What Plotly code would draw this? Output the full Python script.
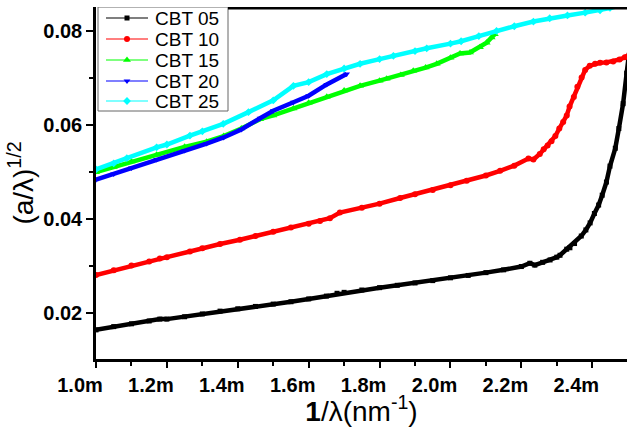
import plotly.graph_objects as go

# x in units of 1e-3 nm^-1 (tick labels "1.0m" ...)
x05 = [1.00, 1.05, 1.10, 1.15, 1.18, 1.20, 1.25, 1.30, 1.35, 1.40, 1.45, 1.50, 1.55, 1.60, 1.65, 1.68,
       1.70, 1.75, 1.80, 1.85, 1.90, 1.95, 2.00, 2.05, 2.10, 2.15, 2.20, 2.224, 2.238, 2.26, 2.281, 2.30,
       2.309, 2.328, 2.337, 2.35, 2.369, 2.382, 2.394, 2.406, 2.418, 2.428, 2.44, 2.45, 2.465, 2.475,
       2.487, 2.497, 2.51]
y05 = [0.0163, 0.0170, 0.0176, 0.0182, 0.0186, 0.0186, 0.0191, 0.0197, 0.0203, 0.0208, 0.0213, 0.0218,
       0.0223, 0.0229, 0.0235, 0.0241, 0.0243, 0.0248, 0.0253, 0.0258, 0.0263, 0.0268, 0.0274, 0.0279,
       0.0285, 0.0291, 0.0298, 0.0305, 0.0301, 0.0307, 0.0312, 0.0318, 0.0322, 0.0335, 0.0338, 0.0347,
       0.0363, 0.0376, 0.0391, 0.0411, 0.0429, 0.0450, 0.0478, 0.0512, 0.0550, 0.0592, 0.0645, 0.0710,
       0.0790]

x10 = [1.00, 1.05, 1.10, 1.15, 1.18, 1.20, 1.265, 1.30, 1.35, 1.406, 1.45, 1.50, 1.55, 1.60, 1.632,
       1.66, 1.688, 1.75, 1.80, 1.858, 1.90, 1.95, 2.00, 2.046, 2.10, 2.14, 2.18, 2.22, 2.234, 2.252,
       2.263, 2.274, 2.285, 2.296, 2.307, 2.318, 2.328, 2.336, 2.348, 2.358, 2.37, 2.38, 2.393, 2.408,
       2.422, 2.44, 2.459, 2.477, 2.492, 2.51]
y10 = [0.0280, 0.0290, 0.0300, 0.0309, 0.0315, 0.0318, 0.0330, 0.0337, 0.0346, 0.0355, 0.0363, 0.0372,
       0.0381, 0.0389, 0.0395, 0.0401, 0.0413, 0.0423, 0.0432, 0.0444, 0.0452, 0.0461, 0.0471, 0.0481,
       0.0492, 0.0502, 0.0513, 0.0528, 0.0526, 0.0538, 0.0548, 0.0556, 0.0565, 0.0576, 0.0592, 0.0606,
       0.0620, 0.0639, 0.0659, 0.0681, 0.0701, 0.0717, 0.0726, 0.0730, 0.0732, 0.0733, 0.0735, 0.0739,
       0.0744, 0.0752]

x15 = [1.00, 1.05, 1.10, 1.171, 1.25, 1.312, 1.36, 1.41, 1.463, 1.50, 1.557, 1.60, 1.651, 1.70, 1.745,
       1.80, 1.82, 1.86, 1.895, 1.93, 1.961, 2.00, 2.027, 2.055, 2.083, 2.102, 2.116, 2.125]
y15 = [0.0499, 0.0510, 0.0522, 0.0536, 0.0553, 0.0564, 0.0576, 0.0592, 0.0612, 0.0620, 0.0635, 0.0647,
       0.0660, 0.0673, 0.0683, 0.0694, 0.0698, 0.0706, 0.0715, 0.0722, 0.0730, 0.0743, 0.0752, 0.0754,
       0.0765, 0.0775, 0.0786, 0.0793]

x20 = [1.00, 1.05, 1.10, 1.171, 1.25, 1.312, 1.36, 1.41, 1.463, 1.50, 1.557, 1.60, 1.651, 1.707]
y20 = [0.0483, 0.0495, 0.0508, 0.0526, 0.0545, 0.0560, 0.0573, 0.0590, 0.0614, 0.0630, 0.0648, 0.0662,
       0.0686, 0.0708]

x25 = [1.00, 1.05, 1.087, 1.171, 1.20, 1.265, 1.30, 1.359, 1.43, 1.50, 1.557, 1.60, 1.651, 1.70, 1.745,
       1.80, 1.839, 1.90, 1.933, 2.00, 2.03, 2.08, 2.13, 2.18, 2.234, 2.28, 2.33, 2.38, 2.422, 2.45, 2.50]
y25 = [0.0505, 0.0518, 0.0529, 0.0552, 0.0558, 0.0577, 0.0586, 0.0602, 0.0627, 0.0652, 0.0683, 0.0691,
       0.0708, 0.0720, 0.0730, 0.0740, 0.0747, 0.0757, 0.0763, 0.0773, 0.0778, 0.0789, 0.0800, 0.0810,
       0.0820, 0.0827, 0.0833, 0.0839, 0.0844, 0.0849, 0.0858]

names = ["CBT 05", "CBT 10", "CBT 15", "CBT 20", "CBT 25"]
colors = ["#000000", "#ff0000", "#00ff00", "#0000ff", "#00ffff"]
symbols = ["square", "circle", "triangle-up", "triangle-down", "diamond"]
msizes = [5, 6, 7, 6, 6]
series = [(x05, y05), (x10, y10), (x15, y15), (x20, y20), (x25, y25)]

# plot-area geometry in pixels (used for the hand-built legend overlay)
L, R, T, B = 96, 627, 7, 359
leg_box = (98, 228, 7, 111)
leg_rows = [18, 39, 60, 81, 101]
leg_line = (106, 148)
leg_text_x = 153

fig = go.Figure()
for (xs, ys), n, c, s, ms in zip(series, names, colors, symbols, msizes):
    fig.add_trace(go.Scatter(x=xs, y=ys, mode="lines+markers", name=n, showlegend=False,
                             line=dict(color=c, width=4.5),
                             marker=dict(symbol=s, size=ms, color=c)))

# legend drawn on a hidden overlay axis measured in pixels
bx0, bx1, by0, by1 = leg_box
fig.add_trace(go.Scatter(x=[bx0, bx1, bx1, bx0, bx0], y=[by0, by0, by1, by1, by0],
                         mode="lines", fill="toself", fillcolor="white",
                         line=dict(color="#666666", width=1), xaxis="x2", yaxis="y2",
                         showlegend=False, hoverinfo="skip", cliponaxis=False))
for r, n, c, s, ms in zip(leg_rows, names, colors, symbols, msizes):
    fig.add_trace(go.Scatter(x=list(leg_line), y=[r, r], mode="lines",
                             line=dict(color=c, width=1.2), xaxis="x2", yaxis="y2",
                             showlegend=False, hoverinfo="skip"))
    fig.add_trace(go.Scatter(x=[(leg_line[0] + leg_line[1]) / 2], y=[r], mode="markers",
                             marker=dict(symbol=s, size=ms, color=c), xaxis="x2", yaxis="y2",
                             showlegend=False, hoverinfo="skip"))
    fig.add_annotation(x=leg_text_x, y=r, xref="x2", yref="y2", text=n, showarrow=False,
                       xanchor="left", yanchor="middle",
                       font=dict(family="Liberation Sans", size=19, color="black"))

# top frame line (right of the legend box)
fig.add_shape(type="line", xref="x2", yref="y2", x0=bx1, x1=R, y0=8, y1=8,
              line=dict(color="black", width=3), layer="above")

tickfont = dict(family="Liberation Sans", size=20, color="black", weight="bold")
fig.update_layout(
    width=627, height=427,
    margin=dict(l=L, r=627 - R, t=T, b=427 - B),
    paper_bgcolor="white", plot_bgcolor="white",
    showlegend=False,
    xaxis=dict(range=[1.0, 2.498], dtick=0.2, tick0=1.0, tickformat=".1f", ticksuffix="m",
               showgrid=False, zeroline=False, showline=True, linecolor="black", linewidth=2.5,
               mirror=False, ticks="outside", ticklen=6, tickwidth=2, tickcolor="black",
               minor=dict(dtick=0.1, ticks="outside", ticklen=4, tickwidth=2, tickcolor="black"),
               tickfont=tickfont, ticklabelshift=-16,
               title=dict(text="<b>1</b>/λ(nm<sup>-1</sup>)",
                          font=dict(family="Liberation Sans", size=28, color="black"), standoff=4)),
    yaxis=dict(range=[0.0101, 0.0851], dtick=0.02, tick0=0.0, tickformat=".2f",
               showgrid=False, zeroline=False, showline=True, linecolor="black", linewidth=2.5,
               mirror=False, ticks="outside", ticklen=7, tickwidth=2, tickcolor="black",
               minor=dict(dtick=0.01, ticks="outside", ticklen=4, tickwidth=2, tickcolor="black"),
               tickfont=tickfont,
               title=dict(text="(a/λ)<sup>1/2</sup>",
                          font=dict(family="Liberation Sans", size=28, color="black"), standoff=2)),
    xaxis2=dict(overlaying="x", range=[L, R], visible=False, fixedrange=True),
    yaxis2=dict(overlaying="y", range=[B, T], visible=False, fixedrange=True),
)
fig.write_html("out.html")
